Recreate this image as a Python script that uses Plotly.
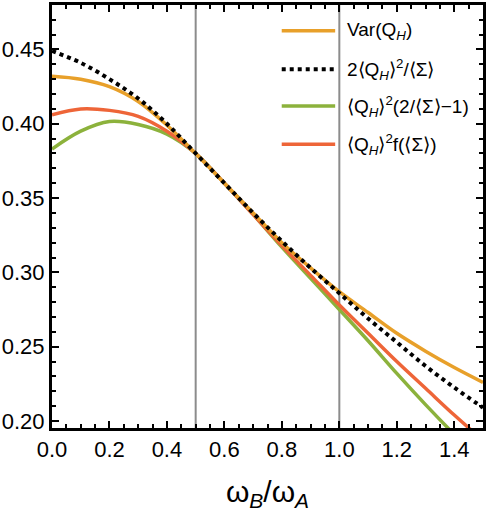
import plotly.graph_objects as go

# omega_B / omega_A sample points
x = [0.0, 0.1, 0.2, 0.3, 0.4, 0.5, 0.6, 0.7, 0.8, 0.9, 1.0, 1.1, 1.2, 1.3, 1.4, 1.5]

var_qh = [0.432, 0.430, 0.425, 0.415, 0.399, 0.380, 0.360, 0.340, 0.320, 0.303,
          0.287, 0.273, 0.259, 0.247, 0.236, 0.226]
two_q2_sigma = [0.449, 0.441, 0.430, 0.417, 0.400, 0.380, 0.360, 0.340, 0.321, 0.303,
                0.286, 0.269, 0.253, 0.237, 0.2225, 0.209]
q2_2sigma_m1 = [0.383, 0.395, 0.4015, 0.3995, 0.393, 0.380, 0.360, 0.339, 0.317, 0.296,
                0.275, 0.254, 0.232, 0.211, 0.191, 0.172]
q2_f_sigma = [0.406, 0.410, 0.409, 0.405, 0.395, 0.380, 0.360, 0.339, 0.318, 0.298,
              0.278, 0.259, 0.240, 0.222, 0.204, 0.187]

names = ["Var(Q<sub><i>H</i></sub>)",
         "2⟨Q<sub><i>H</i></sub>⟩<sup>2</sup>/⟨Σ⟩",
         "⟨Q<sub><i>H</i></sub>⟩<sup>2</sup>(2/⟨Σ⟩−1)",
         "⟨Q<sub><i>H</i></sub>⟩<sup>2</sup>f(⟨Σ⟩)"]
colors = ["#E8A02A", "black", "#8CB23C", "#EE6538"]
dashes = ["solid", "dot", "solid", "solid"]
series = [var_qh, two_q2_sigma, q2_2sigma_m1, q2_f_sigma]

vlines = [0.5, 1.0]

fig = go.Figure()
# draw order: green, red, orange, dotted black on top
for i in [2, 3, 0, 1]:
    fig.add_trace(go.Scatter(x=x, y=series[i], mode="lines", name=names[i],
                             line=dict(color=colors[i], width=3.5 if i != 1 else 4,
                                       dash=dashes[i], shape="spline", smoothing=1),
                             showlegend=False))

for v in vlines:
    fig.add_shape(type="line", xref="x", yref="paper", x0=v, x1=v, y0=0, y1=1,
                  line=dict(color="#8c8c8c", width=2), layer="below")

# hand-made legend (long line samples like the original)
leg_y = [0.939, 0.848, 0.761, 0.671]
for i in range(4):
    fig.add_shape(type="line", xref="paper", yref="paper", x0=0.533, x1=0.657,
                  y0=leg_y[i], y1=leg_y[i],
                  line=dict(color=colors[i], width=3.5 if i != 1 else 4, dash=dashes[i]))
    fig.add_annotation(xref="paper", yref="paper", x=0.680, y=leg_y[i], text=names[i],
                       showarrow=False, xanchor="left", yanchor="middle",
                       font=dict(size=19, color="black"))

axis_common = dict(showline=True, linewidth=3, linecolor="black", mirror="ticks",
                   ticks="inside", ticklen=7, tickwidth=2, tickcolor="black",
                   showgrid=False, zeroline=False,
                   tickfont=dict(size=22, color="black"))

fig.update_xaxes(range=[0, 1.5], dtick=0.2, tick0=0, tickformat=".1f",
                 minor=dict(ticks="inside", ticklen=4, tickwidth=1.5, dtick=0.05,
                            tickcolor="black", showgrid=False),
                 title=dict(text="ω<sub><i>B</i></sub>/ω<sub><i>A</i></sub>",
                            font=dict(size=30, color="black"), standoff=20),
                 **axis_common)
fig.update_yaxes(range=[0.1953, 0.4799], dtick=0.05, tick0=0, tickformat=".2f",
                 minor=dict(ticks="inside", ticklen=4, tickwidth=1.5, dtick=0.01,
                            tickcolor="black", showgrid=False),
                 **axis_common)

fig.update_layout(width=488, height=513,
                  margin=dict(l=51, r=2, t=2, b=85),
                  paper_bgcolor="white", plot_bgcolor="white",
                  font=dict(family="Liberation Sans, Arial, sans-serif", color="black"))

fig.write_html("out.html", config={"displayModeBar": False},
               post_script="document.body.style.margin='0';document.body.style.padding='0';")
